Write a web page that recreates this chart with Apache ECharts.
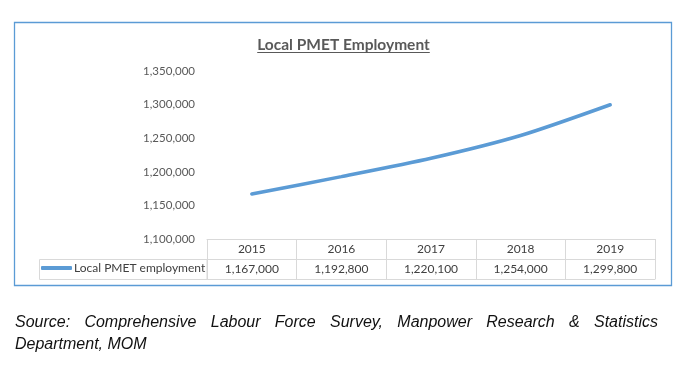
<!DOCTYPE html>
<html><head><meta charset="utf-8">
<script src="https://cdn.jsdelivr.net/npm/echarts@6/dist/echarts.min.js"></script>
<style>html,body{margin:0;padding:0;background:#fff}#c{width:689px;height:392px}</style>
</head><body><div id="c"></div>
<script>
const years = ['2015','2016','2017','2018','2019'];
const employment = [1167000, 1192800, 1220100, 1254000, 1299800];
const seriesName = 'Local PMET employment';
const yTicks = {min: 1100000, max: 1350000, interval: 50000};
const titleText = 'Local PMET Employment';
const sourceLine1 = 'Source: Comprehensive Labour Force Survey, Manpower Research & Statistics';
const sourceLine2 = 'Department, MOM';

const fmt = v => v.toLocaleString('en-US');
const chart = echarts.init(document.getElementById('c'));

const mctx = document.createElement('canvas').getContext('2d');
function measure(text, font){ mctx.font = font; return mctx.measureText(text).width; }

const titleFont = 'bold 15.5px Lato';
const tW = measure(titleText, titleFont);
const tCx = 343.5;

const srcFont = 'italic 16px "Liberation Sans Narrow", "Arial Narrow", "Liberation Sans", sans-serif';
const words = sourceLine1.split(' ');
const wW = words.map(w => measure(w, srcFont));
const sx0 = 15, sx1 = 658;
const gap = (sx1 - sx0 - wW.reduce((a,b)=>a+b,0)) / (words.length - 1);
const srcEls = [];
let cx = sx0;
words.forEach((w,i) => {
  srcEls.push({type:'text', x: cx, y: 323, style:{text:w, font: srcFont, fill:'#111', verticalAlign:'middle'}});
  cx += wW[i] + gap;
});
srcEls.push({type:'text', x: sx0, y: 345, style:{text:sourceLine2, font: srcFont, fill:'#111', verticalAlign:'middle'}});

chart.setOption({
  animation: false,
  textStyle: {fontFamily: 'Lato'},
  grid: {left: 207, right: 34, top: 71, bottom: 153},
  legend: {
    show: true, left: 41, top: 262, padding: 0, itemGap: 0,
    icon: 'roundRect', itemWidth: 31, itemHeight: 4,
    textStyle: {color: '#404040', fontSize: 12, fontFamily: 'Lato', padding: [0,0,0,-3]},
    data: [seriesName]
  },
  xAxis: [
    {type: 'category', data: years, position: 'bottom', boundaryGap: true,
     axisLine: {show: true, lineStyle: {color: '#D9D9D9', width: 1}},
     axisTick: {show: true, length: 40, lineStyle: {color: '#D9D9D9'}},
     axisLabel: {color: '#404040', fontSize: 12, fontFamily: 'Lato', margin: 4},
     splitLine: {show: false}},
    {type: 'category', data: employment.map(fmt), position: 'bottom', offset: 20, boundaryGap: true,
     axisLine: {show: true, lineStyle: {color: '#D9D9D9', width: 1}},
     axisTick: {show: false},
     axisLabel: {color: '#404040', fontSize: 12, fontFamily: 'Lato', margin: 4}},
    {type: 'category', data: years, position: 'bottom', offset: 40, boundaryGap: true,
     axisLine: {show: true, lineStyle: {color: '#D9D9D9', width: 1}},
     axisTick: {show: false}, axisLabel: {show: false}}
  ],
  yAxis: {
    type: 'value', min: yTicks.min, max: yTicks.max, interval: yTicks.interval,
    axisLine: {show: false}, axisTick: {show: false}, splitLine: {show: false},
    axisLabel: {color: '#595959', fontSize: 11.5, fontFamily: 'Lato', margin: 12, formatter: v => fmt(v)}
  },
  series: [{
    name: seriesName, type: 'line', data: employment, xAxisIndex: 0,
    smooth: 0.25, symbol: 'none',
    lineStyle: {color: '#5B9BD5', width: 3.5, cap: 'round'},
    itemStyle: {color: '#5B9BD5'}
  }],
  graphic: [
    {type: 'rect', shape: {x: 14.5, y: 22.5, width: 657, height: 263}, style: {fill: 'none', stroke: '#5B9BD5', lineWidth: 1.3}, silent: true},
    {type: 'rect', shape: {x: 39.5, y: 259.5, width: 167.5, height: 20}, style: {fill: 'none', stroke: '#D9D9D9', lineWidth: 1}, silent: true},
    {type: 'text', x: tCx, y: 44.5, style: {text: titleText, font: titleFont, fill: '#595959', align: 'center', verticalAlign: 'middle'}},
    {type: 'line', shape: {x1: tCx - tW/2, y1: 52.5, x2: tCx + tW/2, y2: 52.5}, style: {stroke: '#595959', lineWidth: 1.2}},
    ...srcEls
  ]
});
</script></body></html>
